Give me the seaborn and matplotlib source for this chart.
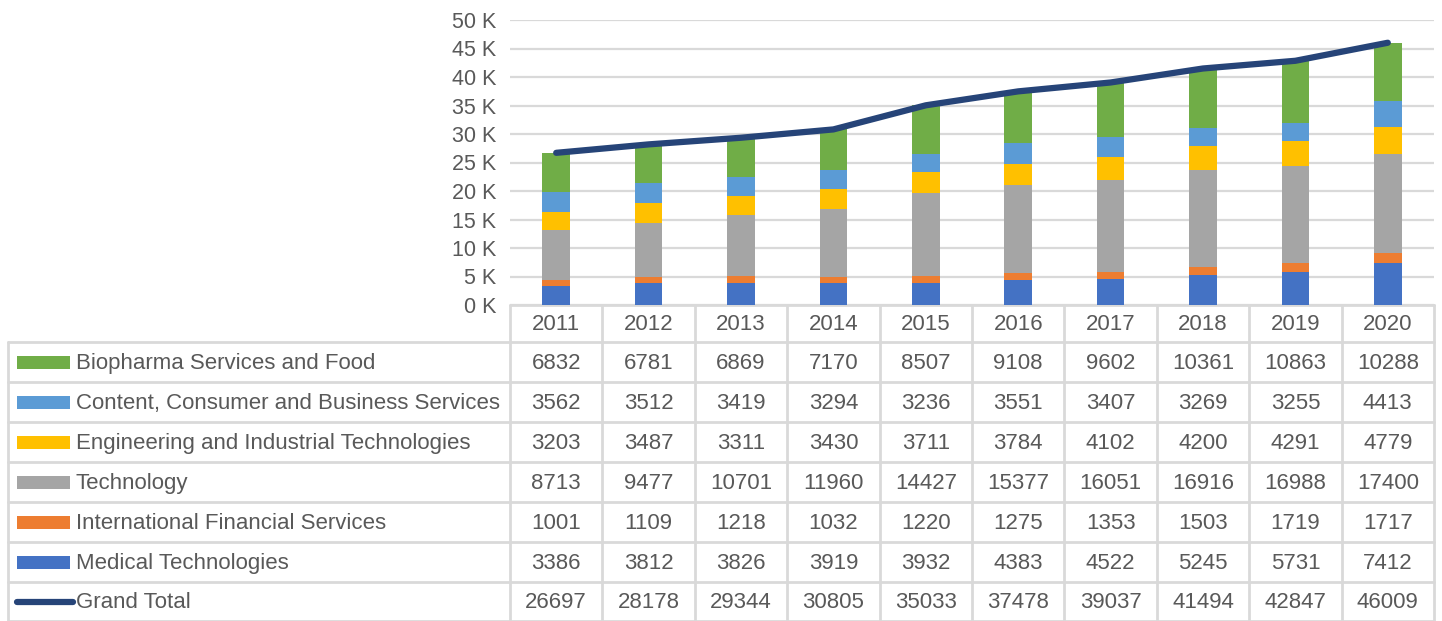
import numpy as np
import pandas as pd
import seaborn as sns
import matplotlib.pyplot as plt
from matplotlib.lines import Line2D
from matplotlib.patches import Rectangle

years = ['2011', '2012', '2013', '2014', '2015', '2016', '2017', '2018', '2019', '2020']

# series listed bottom-of-stack first
medical = [3386, 3812, 3826, 3919, 3932, 4383, 4522, 5245, 5731, 7412]
financial = [1001, 1109, 1218, 1032, 1220, 1275, 1353, 1503, 1719, 1717]
technology = [8713, 9477, 10701, 11960, 14427, 15377, 16051, 16916, 16988, 17400]
engineering = [3203, 3487, 3311, 3430, 3711, 3784, 4102, 4200, 4291, 4779]
content = [3562, 3512, 3419, 3294, 3236, 3551, 3407, 3269, 3255, 4413]
biopharma = [6832, 6781, 6869, 7170, 8507, 9108, 9602, 10361, 10863, 10288]
grand_total = [26697, 28178, 29344, 30805, 35033, 37478, 39037, 41494, 42847, 46009]

series = [
    ('Medical Technologies', medical, '#4472c4'),
    ('International Financial Services', financial, '#ed7d31'),
    ('Technology', technology, '#a5a5a5'),
    ('Engineering and Industrial Technologies', engineering, '#ffc000'),
    ('Content, Consumer and Business Services', content, '#5b9bd5'),
    ('Biopharma Services and Food', biopharma, '#70ad47'),
]
line_color = '#264478'
text_color = '#595959'
grid_color = '#d9d9d9'

sns.set_theme(style='white')
plt.rcParams['font.family'] = ['Liberation Sans', 'DejaVu Sans']

W, H = 1442, 621
fig = plt.figure(figsize=(W / 100, H / 100), dpi=100)

# pixel layout
x_lab0, x_col0, x_end = 8, 510, 1434
y_top, y_zero = 20, 305
row_edges = [305, 342, 382, 422, 462, 502, 542, 582, 621]

ax = fig.add_axes([x_col0 / W, 1 - y_zero / H, (x_end - x_col0) / W, (y_zero - y_top) / H])

df = pd.DataFrame({'year': years})
bottom = np.zeros(len(years))
for name, vals, col in series:
    df['v'] = vals
    sns.barplot(data=df, x='year', y='v', color=col, bottom=bottom, width=0.3,
                saturation=1, ax=ax, zorder=3, linewidth=0, edgecolor='none')
    bottom = bottom + np.array(vals)

sns.lineplot(x=np.arange(len(years)), y=grand_total, color=line_color, linewidth=4.5,
             ax=ax, zorder=4, solid_capstyle='round')

ax.set_xlim(-0.5, len(years) - 0.5)
ax.set_ylim(0, 50000)
ax.set_yticks(np.arange(0, 50001, 5000))
ax.set_yticklabels([f'{int(t / 1000)} K' for t in ax.get_yticks()], fontsize=15.5, color=text_color)
ax.set_xticks([])
ax.set_xlabel('')
ax.set_ylabel('')
ax.tick_params(axis='y', length=0, pad=10)
ax.yaxis.grid(True, color=grid_color, linewidth=1.6, zorder=0)
for s in ax.spines.values():
    s.set_visible(False)

# data table drawn in figure pixel space
tx = fig.add_axes([0, 0, 1, 1], zorder=-1)
tx.set_xlim(0, W)
tx.set_ylim(H, 0)
tx.axis('off')

ncol = len(years)
col_w = (x_end - x_col0) / ncol
lw = 2
# horizontal borders
tx.plot([x_col0, x_end], [row_edges[0]] * 2, color=grid_color, lw=lw)
for y in row_edges[1:]:
    tx.plot([x_lab0, x_end], [y, y], color=grid_color, lw=lw)
# vertical borders
tx.plot([x_lab0, x_lab0], [row_edges[1], row_edges[-1]], color=grid_color, lw=lw)
for i in range(ncol + 1):
    xv = x_col0 + i * col_w
    tx.plot([xv, xv], [row_edges[0], row_edges[-1]], color=grid_color, lw=lw)

fs = 16
yc = (row_edges[0] + row_edges[1]) / 2 + 1.5
for i, yr in enumerate(years):
    tx.text(x_col0 + (i + 0.5) * col_w, yc, yr, ha='center', va='center', fontsize=fs, color=text_color)

rows = [(n, v, c) for n, v, c in reversed(series)] + [('Grand Total', grand_total, None)]
for r, (name, vals, col) in enumerate(rows):
    y0, y1 = row_edges[r + 1], row_edges[r + 2]
    yc = (y0 + y1) / 2
    if col is not None:
        tx.add_patch(Rectangle((17, yc - 6.5), 53, 13, color=col, lw=0))
    else:
        tx.add_line(Line2D([17, 73], [yc, yc], color=line_color, lw=4.5, solid_capstyle='round'))
    tx.text(76, yc + 1.5, name, ha='left', va='center', fontsize=fs, color=text_color)
    for i, v in enumerate(vals):
        tx.text(x_col0 + (i + 0.5) * col_w, yc + 1.5, str(v), ha='center', va='center',
                fontsize=fs, color=text_color)

fig.savefig('out.png', dpi=100, facecolor='white')
